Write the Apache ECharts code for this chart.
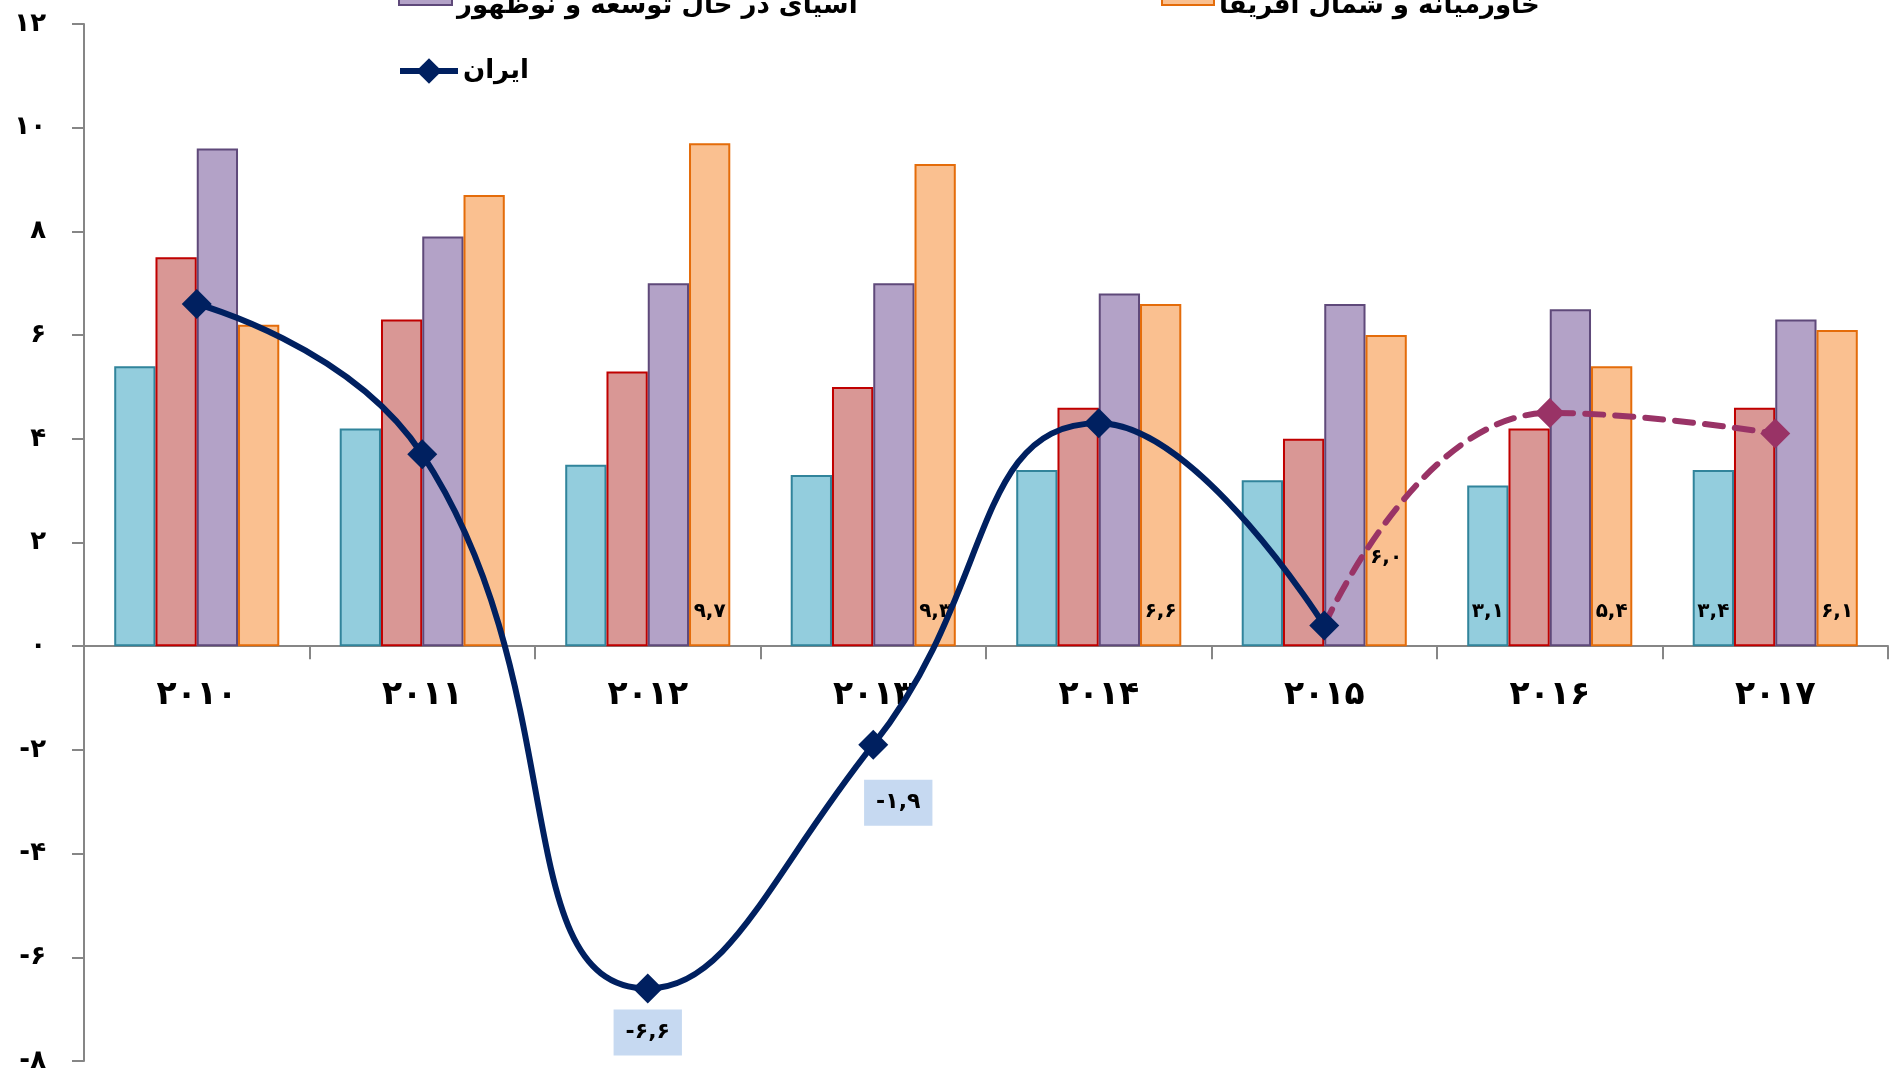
<!DOCTYPE html>
<html><head><meta charset="utf-8">
<script src="https://cdn.jsdelivr.net/npm/echarts@6/dist/echarts.min.js"></script>
<style>html,body{margin:0;padding:0;background:#fff;}#c{width:1892px;height:1071px;}</style>
</head><body><div id="c"></div>
<script>
// ---- data ----
const years = ['۲۰۱۰', '۲۰۱۱', '۲۰۱۲', '۲۰۱۳', '۲۰۱۴', '۲۰۱۵', '۲۰۱۶', '۲۰۱۷'];
const worldSeries = [5.4, 4.2, 3.5, 3.3, 3.4, 3.2, 3.1, 3.4];
const emergingSeries = [7.5, 6.3, 5.3, 5.0, 4.6, 4.0, 4.2, 4.6];
const asiaSeries = [9.6, 7.9, 7.0, 7.0, 6.8, 6.6, 6.5, 6.3];
const menaSeries = [6.2, 8.7, 9.7, 9.3, 6.6, 6.0, 5.4, 6.1];
const iranActual = [6.6, 3.7, -6.6, -1.9, 4.3, 0.4, null, null];
const iranForecast = [null, null, null, null, null, 0.4, 4.5, 4.1];
const worldLabelled = [6, 7];
const menaLabelled = [2, 3, 4, 5, 6, 7];
const iranLabelled = [2, 3];
const yMin = -8, yMax = 12, yStep = 2;

const seriesNames = {
  world: 'جهان',
  emerging: 'اقتصادهای نوظهور و در حال توسعه',
  asia: 'آسیای در حال توسعه و نوظهور',
  mena: 'خاورمیانه و شمال آفریقا',
  iran: 'ایران',
  iranF: 'ایران (پیش‌بینی)'
};

// ---- helpers ----
const FONT = "'DejaVu Sans', sans-serif";
const faDigits = '۰۱۲۳۴۵۶۷۸۹';
function fa(v, dec) {
  let s = dec ? Math.abs(v).toFixed(1).replace('.', ',') : String(Math.abs(v));
  s = s.replace(/\d/g, d => faDigits[+d]);
  return (v < 0 ? '-' : '') + s;
}
function barData(values, labelled, extra) {
  return values.map((v, i) => {
    if (labelled.indexOf(i) < 0) return v;
    const item = { value: v, label: { show: true } };
    if (extra && extra[i]) Object.assign(item.label, extra[i]);
    return item;
  });
}
const barLabel = {
  show: false, position: 'insideBottom', distance: 24,
  formatter: p => fa(p.value, true),
  color: '#000', fontSize: 20, fontWeight: 'bold', fontFamily: FONT
};
function barSeries(name, data, fill, border) {
  return {
    name, type: 'bar', data, barWidth: '18.3%', barGap: '0%',
    itemStyle: { color: fill, borderColor: border, borderWidth: 2 },
    label: barLabel, emphasis: { disabled: true }, z: 1
  };
}

const iranData = iranActual.map((v, i) => {
  if (iranLabelled.indexOf(i) < 0) return v;
  return {
    value: v,
    label: i === 2
      ? { show: true, position: 'bottom', distance: 6 }
      : { show: true, position: 'bottom', distance: 20, offset: [25, 0] }
  };
});
const forecastData = iranForecast.map((v, i) => (i === 5 ? { value: v, symbol: 'none' } : v));

// grid geometry
const W = 1892, H = 1071;
const gTop = 24, gBottom = 10;
const plotH = H - gTop - gBottom;
const zeroFromBottom = plotH * (0 - yMin) / (yMax - yMin);

const chart = echarts.init(document.getElementById('c'), null, { renderer: 'canvas' });
const legendText = { fontSize: 26, fontWeight: 'bold', fontFamily: FONT, color: '#000' };
const legendTextLow = Object.assign({}, legendText, {
  rich: { low: { fontSize: 26, fontWeight: 'bold', fontFamily: FONT, color: '#000', padding: [22, 0, 0, 0] } }
});
chart.setOption({
  animation: false,
  backgroundColor: '#fff',
  grid: { left: 84, right: 4, top: gTop, bottom: gBottom, containLabel: false, outerBoundsMode: 'none' },
  legend: [
    { data: [seriesNames.asia], left: 398, top: -16, icon: 'rect', itemWidth: 53, itemHeight: 20,
      selectedMode: false, textStyle: legendTextLow, padding: 0, formatter: n => '{low|' + n + '}' },
    { data: [seriesNames.mena], left: 1161, top: -16, icon: 'rect', itemWidth: 52, itemHeight: 20,
      selectedMode: false, textStyle: legendTextLow, padding: 0, formatter: n => '{low|' + n + '}' },
    { data: [seriesNames.iran], left: 397, top: 58, itemWidth: 58, itemHeight: 32,
      selectedMode: false, textStyle: legendText, padding: 0,
      lineStyle: { width: 6 } }
  ],
  xAxis: [{
    type: 'category', data: years,
    axisLine: { onZero: true, lineStyle: { color: '#868686', width: 2 } },
    axisTick: { show: true, length: 13, lineStyle: { color: '#868686', width: 2 } },
    axisLabel: { show: false }
  }, {
    type: 'category', data: years, position: 'bottom', offset: -zeroFromBottom,
    axisLine: { show: false, onZero: false }, axisTick: { show: false },
    axisLabel: { margin: 33, fontSize: 33, fontWeight: 'bold', color: '#000', fontFamily: FONT }
  }],
  yAxis: {
    type: 'value', min: yMin, max: yMax, interval: yStep,
    splitLine: { show: false },
    axisLine: { show: true, lineStyle: { color: '#868686', width: 2 } },
    axisTick: { show: true, length: 12, lineStyle: { color: '#868686', width: 2 } },
    axisLabel: { margin: 38, fontSize: 26, fontWeight: 'bold', color: '#000', fontFamily: FONT,
      formatter: v => fa(v, false) }
  },
  series: [
    barSeries(seriesNames.world, barData(worldSeries, worldLabelled), '#93CDDD', '#31849B'),
    barSeries(seriesNames.emerging, emergingSeries, '#D99795', '#C00000'),
    barSeries(seriesNames.asia, asiaSeries, '#B3A2C7', '#5F497A'),
    barSeries(seriesNames.mena, barData(menaSeries, menaLabelled, { 5: { distance: 78 } }), '#FAC090', '#E46C0A'),
    {
      name: seriesNames.iranF, type: 'line', data: forecastData, smooth: 0.5,
      symbol: 'diamond', symbolSize: 30, connectNulls: false,
      itemStyle: { color: '#993366' },
      lineStyle: { color: '#993366', width: 6, type: [18, 12], cap: 'round' },
      emphasis: { disabled: true }, z: 3
    },
    {
      name: seriesNames.iran, type: 'line', data: iranData, smooth: 0.5,
      symbol: 'diamond', symbolSize: 30,
      itemStyle: { color: '#002060' },
      lineStyle: { color: '#002060', width: 6 },
      label: {
        show: false, formatter: p => fa(p.value, true),
        color: '#000', fontSize: 22, fontWeight: 'bold', fontFamily: FONT,
        backgroundColor: '#C6D9F1', padding: [12, 12]
      },
      emphasis: { disabled: true }, z: 4
    }
  ]
});
</script>
</body></html>
